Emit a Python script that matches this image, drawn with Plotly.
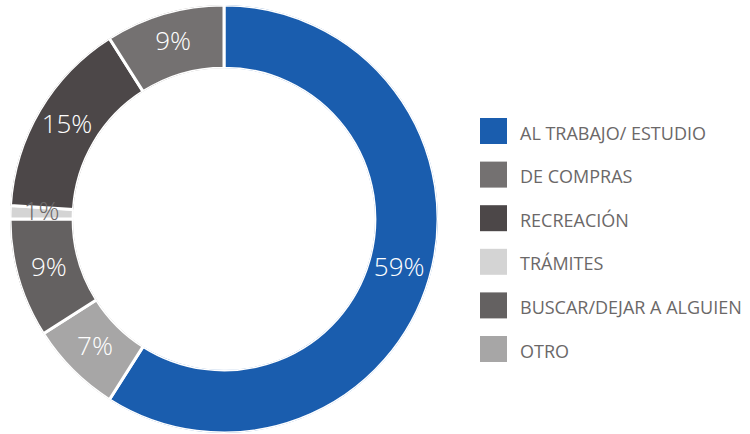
import plotly.graph_objects as go

categories = ["AL TRABAJO/ ESTUDIO", "DE COMPRAS", "RECREACIÓN", "TRÁMITES",
              "BUSCAR/DEJAR A ALGUIEN", "OTRO"]
values = [59, 9, 15, 1, 9, 7]
colors = ["#1a5dae", "#747171", "#4c4748", "#d4d4d4", "#646161", "#a7a6a6"]
text_colors = ["#ffffff", "#ffffff", "#ffffff", "#6b6868", "#ffffff", "#ffffff"]

# clockwise drawing order: first slice, then the rest in reverse legend order
order = [0, 5, 4, 3, 2, 1]
ord_labels = [categories[i] for i in order]
ord_values = [values[i] for i in order]
ord_colors = [colors[i] for i in order]

W, H = 750, 434
cx, cy, R = 224, 219, 214
HOLE = 0.705
dom = dict(x=[(cx - R) / W, (cx + R) / W], y=[(H - cy - R) / H, (H - cy + R) / H])

# donut as polar wedges: angular position/width from each share of the total
total = sum(ord_values)
mid_theta, widths, acc = [], [], 0
for v in ord_values:
    mid_theta.append((acc + v / 2) / total * 360)
    widths.append(v / total * 360)
    acc += v

fig = go.Figure()
fig.add_trace(go.Barpolar(
    r=[1] * len(ord_values), theta=mid_theta, width=widths, base=0,
    marker=dict(color=ord_colors, line=dict(color="white", width=3)),
    customdata=ord_labels, hovertemplate="%{customdata}<extra></extra>",
    showlegend=False,
))
fig.add_trace(go.Scatterpolar(
    r=[0.5] * len(ord_values), theta=mid_theta,
    mode="text", text=[f"{v}%" for v in ord_values],
    textfont=dict(family="Open Sans", size=26, weight=300,
                  color=[text_colors[i] for i in order]),
    textposition="middle center", hoverinfo="skip", showlegend=False,
))

# legend drawn from the category list
shapes, annotations = [], []
y0, step = 131, 43.6
for k, (name, col) in enumerate(zip(categories, colors)):
    yc = y0 + k * step
    shapes.append(dict(type="rect", xref="paper", yref="paper",
                       x0=480 / W, x1=507 / W,
                       y0=1 - (yc + 13) / H, y1=1 - (yc - 13) / H,
                       fillcolor=col, line=dict(width=0)))
    annotations.append(dict(x=518 / W, y=1 - (yc + 1.5) / H, xref="paper", yref="paper",
                            text=name, showarrow=False, xanchor="left", yanchor="middle",
                            font=dict(family="Open Sans", size=18, color="#6b6868")))

fig.update_layout(
    width=W, height=H,
    margin=dict(l=0, r=0, t=0, b=0),
    paper_bgcolor="white", plot_bgcolor="white",
    polar=dict(domain=dom, hole=HOLE, bgcolor="rgba(0,0,0,0)", bargap=0,
               radialaxis=dict(range=[0, 1], visible=False, showgrid=False),
               angularaxis=dict(visible=False, showgrid=False, rotation=90,
                                direction="clockwise")),
    shapes=shapes, annotations=annotations,
)

fig.write_html("out.html", config={"displayModeBar": False},
               post_script="document.body.style.margin='0';")
